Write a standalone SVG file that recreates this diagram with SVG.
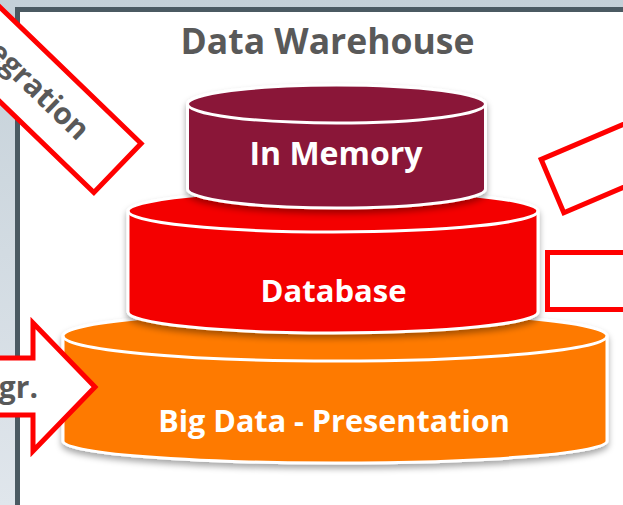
<svg xmlns="http://www.w3.org/2000/svg" width="623" height="505" viewBox="0 0 623 505">
<defs>
<linearGradient id="bg" x1="0" y1="0" x2="0" y2="1">
<stop offset="0" stop-color="#c4d0d8"/>
<stop offset="1" stop-color="#e0e6ec"/>
</linearGradient>
<filter id="sh" x="-10%" y="-10%" width="120%" height="130%">
<feDropShadow dx="0" dy="4" stdDeviation="3" flood-color="#000" flood-opacity="0.35"/>
</filter>
<style>
.cyl{stroke:#fff;stroke-width:3;stroke-linejoin:round}
.rim{fill:none;stroke:#fff;stroke-width:3}
.lbl{font-family:"Open Sans","Liberation Sans",sans-serif;font-weight:700;fill:#fff;text-anchor:middle}
.gt{font-family:"Open Sans","Liberation Sans",sans-serif;font-weight:700;fill:#595959}
.rb{fill:#fff;stroke:#f00;stroke-width:5}
</style>
</defs>
<rect x="0" y="0" width="623" height="505" fill="url(#bg)"/>
<rect id="panel" x="17.5" y="9.5" width="700" height="600" fill="#fff" stroke="#4b5a62" stroke-width="5"/>
<text id="title" class="gt" x="327.5" y="54" font-size="35.5" text-anchor="middle">Data Warehouse</text>

<g id="bigdata">
<path class="cyl" fill="#fe7a00" filter="url(#sh)" d="M63,336 L63,441 A272,22 0 0 0 607,441 L607,336 A272,25 0 0 0 63,336 Z"/>
<path class="rim" d="M63,336 A272,25 0 0 0 607,336"/>
<text class="lbl" x="334" y="432" font-size="30.6">Big Data - Presentation</text>
</g>
<g id="database">
<path class="cyl" fill="#f40000" filter="url(#sh)" d="M128,211 L128,312 A205,21 0 0 0 538,312 L538,211 A205,21 0 0 0 128,211 Z"/>
<path class="rim" d="M128,211 A205,21 0 0 0 538,211"/>
<text class="lbl" x="333.5" y="302" font-size="31">Database</text>
</g>
<g id="inmemory">
<path class="cyl" fill="#8a1538" filter="url(#sh)" d="M187.5,104 L187.5,189 A149,19 0 0 0 485.5,189 L485.5,104 A149,19 0 0 0 187.5,104 Z"/>
<path class="rim" d="M187.5,104 A149,19 0 0 0 485.5,104"/>
<text class="lbl" x="336" y="165" font-size="32">In Memory</text>
</g>

<g id="integration" transform="translate(117.5,168) rotate(44)">
<rect class="rb" x="-300" y="-34" width="300" height="68"/>
<text class="gt" x="-47" y="9" font-size="30" text-anchor="end">egration</text>
</g>
<g id="integr-arrow">
<polygon class="rb" points="-10,358 33,358 33,323 95,387 33,451 33,415 -10,415"/>
<text class="gt" x="38" y="398" font-size="30" text-anchor="end">gr.</text>
</g>
<g id="right-box-1" transform="translate(552.5,186) rotate(-23)">
<rect class="rb" x="0" y="-29" width="200" height="58"/>
</g>
<g id="right-box-2">
<rect class="rb" x="547.5" y="252.5" width="120" height="57"/>
</g>
</svg>
